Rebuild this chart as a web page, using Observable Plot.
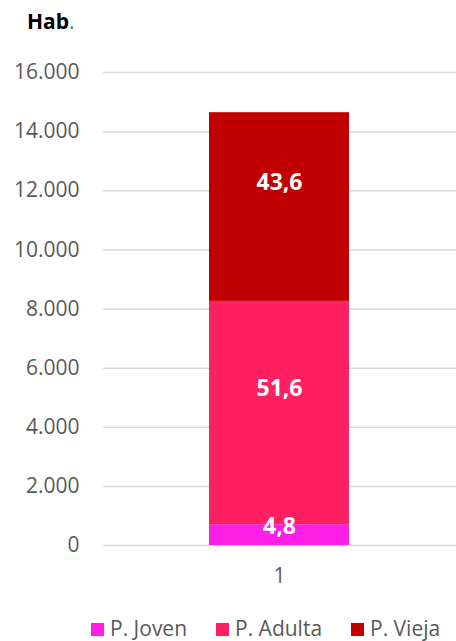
<!DOCTYPE html>
<html><head><meta charset="utf-8">
<script src="https://cdn.jsdelivr.net/npm/d3@7"></script>
<script src="https://cdn.jsdelivr.net/npm/@observablehq/plot@0.6"></script>
<style>
body{margin:0;background:#fff;font-family:"Open Sans",sans-serif;width:456px;height:641px;overflow:hidden;position:relative}
#title{height:50px;position:relative}
#title span.b{position:absolute;left:27px;top:6px;font-size:21px;font-weight:700;color:#000;line-height:30px}
#title span.d{color:#5a7392;font-weight:400}
#legend{position:relative;height:46px}
.item{position:absolute;top:22px;display:flex;align-items:center;font-size:21px;color:#595959;line-height:22px;white-space:nowrap}
.sw{width:13px;height:13px;margin-right:6px;margin-top:3px}
</style></head>
<body>
<div id="title"><span class="b">Hab<span class="d">.</span></span></div>
<div id="chart"></div>
<div id="legend"></div>
<script>
const categorias = ["1"];
const series = ["P. Joven", "P. Adulta", "P. Vieja"];
const habitantes = [703, 7554, 6383];
const porcentajes = ["4,8", "51,6", "43,6"];
const colores = ["#ff1ee6", "#fe2060", "#c00000"];
const yTicks = [0, 2000, 4000, 6000, 8000, 10000, 12000, 14000, 16000];

const rows = series.map((s, i) => ({cat: categorias[0], serie: s, hab: habitantes[i], pct: porcentajes[i]}));
const fmt = d3.formatLocale({decimal: ",", thousands: ".", grouping: [3], currency: ["", "€"]}).format(",");

const chart = Plot.plot({
  width: 456, height: 545,
  marginTop: 22, marginBottom: 50, marginLeft: 103, marginRight: 0,
  style: {fontFamily: "Open Sans", fontSize: "21px", color: "#595959", background: "white"},
  x: {domain: categorias, padding: 0.43, label: null, tickSize: 0, tickPadding: 23},
  y: {domain: [0, 16000], ticks: yTicks, tickFormat: fmt, label: null, tickSize: 0, tickPadding: 24},
  color: {domain: series, range: colores},
  marks: [
    Plot.gridY(yTicks, {stroke: "#d9d9d9", strokeOpacity: 1, strokeWidth: 1.5}),
    Plot.barY(rows, {x: "cat", y: "hab", fill: "serie", order: series}),
    Plot.text(rows, Plot.stackY({x: "cat", y: "hab", z: "serie", order: series,
      text: d => d.serie !== series[0] ? d.pct : null,
      fill: "white", fontWeight: 700, fontSize: 23, dy: -24})),
    Plot.text(rows, Plot.stackY({x: "cat", y: "hab", z: "serie", order: series,
      text: d => d.serie === series[0] ? d.pct : null,
      fill: "white", fontWeight: 700, fontSize: 23, dy: -8}))
  ]
});
document.getElementById("chart").appendChild(chart);

const lefts = [91, 216, 351];
const leg = document.getElementById("legend");
series.forEach((s, i) => {
  const it = document.createElement("div");
  it.className = "item";
  it.style.left = lefts[i] + "px";
  const sw = document.createElement("span");
  sw.className = "sw";
  sw.style.background = colores[i];
  const tx = document.createElement("span");
  tx.textContent = s;
  it.appendChild(sw); it.appendChild(tx);
  leg.appendChild(it);
});
</script>
</body></html>
